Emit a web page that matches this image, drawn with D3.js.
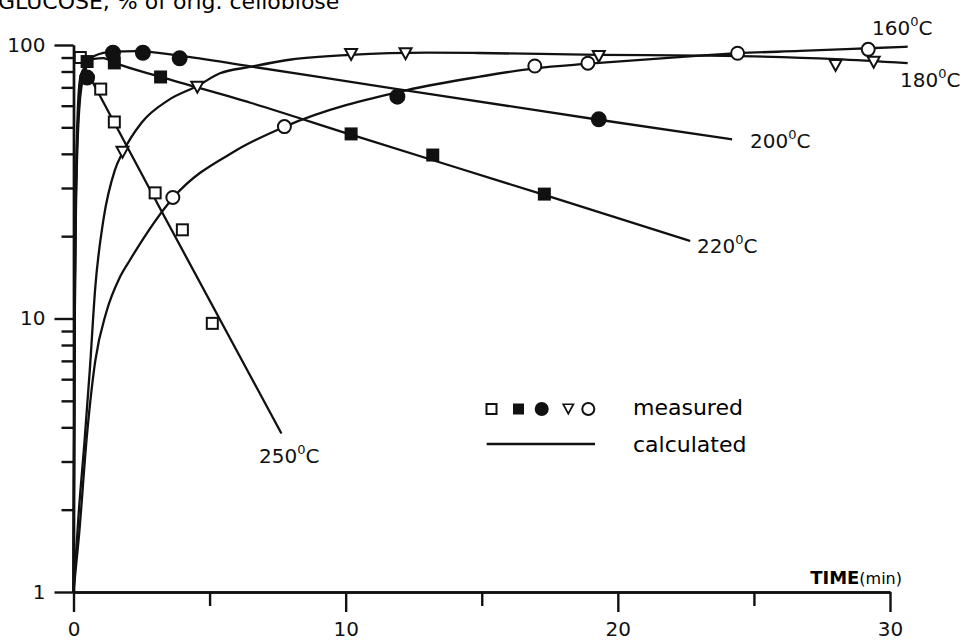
<!DOCTYPE html>
<html lang="en">
<head>
<meta charset="UTF-8">
<title>Glucose from cellobiose</title>
<script src="https://d3js.org/d3.v7.min.js"></script>
<style>
  body { margin: 0; background: #fff; }
  svg { display: block; font-family: "DejaVu Sans", sans-serif; }
  .tlbl { font-size: 20px; fill: #111; }
</style>
</head>
<body>
<svg width="963" height="642"></svg>
<script>
// measured points, [time (min), glucose (% of orig. cellobiose)]
const sq250 = [[0.25, 90], [1.0, 69], [1.5, 52.3], [3.0, 28.8], [4.0, 21.1], [5.1, 9.6]];
const sq220 = [[0.5, 87], [1.5, 86], [3.2, 76.4], [10.2, 47.3], [13.2, 39.6], [17.3, 28.5]];
const dot200 = [[0.5, 76], [1.45, 93.7], [2.55, 93.7], [3.9, 89.4], [11.9, 64.7], [19.3, 53.5]];
const tri180 = [[1.8, 40.7], [4.55, 70.4], [10.2, 92.7], [12.2, 93.3], [19.3, 91.1], [28.0, 84.5], [29.4, 86.9]];
const circ160 = [[3.65, 27.7], [7.75, 50.3], [16.95, 83.8], [18.9, 85.8], [24.4, 93.3], [29.2, 96.4]];

// calculated curves
const calc250 = [[0, 1], [0.03, 6], [0.08, 25], [0.15, 55], [0.25, 76], [0.4, 82], [0.55, 78], [0.72, 72.6], [3.24, 24.6], [7.64, 3.8]];
const calc220 = [[0, 1], [0.04, 8], [0.12, 35], [0.25, 65], [0.45, 82], [0.75, 89], [1.1, 89.5], [1.52, 86], [3.2, 76.5], [6.5, 61.5], [10.2, 47], [17.3, 28.3], [22.66, 19.2]];
const calc200 = [[0, 1], [0.04, 10], [0.12, 40], [0.25, 68], [0.45, 84], [0.8, 91.5], [1.45, 94.5], [2.3, 95], [3.9, 91.5], [6.5, 83.5], [11.9, 69], [19.3, 53.3], [24.2, 45.2]];
const calc180 = [[0, 1], [0.2, 2], [0.4, 3.5], [0.6, 6.5], [0.8, 13], [1.1, 23], [1.52, 34.9], [1.82, 40.7], [2.5, 52], [3.5, 63], [4.57, 71], [5.38, 78.8], [6.48, 83.1], [8, 88.5], [10.16, 92], [13, 93.8], [14.9, 93.5], [19.3, 92], [23, 91.5], [25, 90.8], [28, 88.8], [30.65, 85.8]];
const calc160 = [[0, 1], [0.2, 1.6], [0.5, 3.8], [0.8, 7], [1.2, 10.5], [1.71, 14.2], [2.08, 16.4], [3.67, 27.7], [6, 41.3], [7.77, 50.3], [12.25, 68.4], [14.93, 76.6], [16.95, 82.2], [18.94, 85.5], [23, 91.5], [24.4, 93.3], [26.7, 95.1], [29.2, 97.3], [30.65, 98.6]];

const yMajor = [1, 10, 100];
const yMinor = [2, 3, 4, 5, 6, 7, 8, 9, 20, 30, 40, 50, 60, 70, 80, 90];
const xMajor = [0, 10, 20, 30];
const xMinor = [5, 15, 25];

const svg = d3.select("svg");
const x = d3.scaleLinear().domain([0, 30]).range([73.5, 890]);
const y = d3.scaleLog().domain([1, 100]).range([592, 45]);

// title, cut off at the top like the scan
svg.append("text")
    .attr("x", -2).attr("y", 8.5)
    .attr("font-size", 22)
    .text("GLUCOSE, % of orig. cellobiose");

// axes
function styleAxis(g) {
    g.selectAll("path, line").attr("stroke", "#111").attr("stroke-width", 2.4);
    g.selectAll("text").attr("font-size", 20).attr("fill", "#111")
        .attr("font-family", "DejaVu Sans, sans-serif");
}

svg.append("g").attr("transform", "translate(73.5,0)")
    .call(d3.axisLeft(y).tickValues(yMinor).tickSize(12).tickSizeOuter(0).tickFormat(""))
    .call(styleAxis);
svg.append("g").attr("transform", "translate(73.5,0)")
    .call(d3.axisLeft(y).tickValues(yMajor).tickSize(19).tickSizeOuter(0).tickPadding(9).tickFormat(d3.format("d")))
    .call(styleAxis);

svg.append("g").attr("transform", "translate(0,592)")
    .call(d3.axisBottom(x).tickValues(xMinor).tickSize(14).tickSizeOuter(0).tickFormat(""))
    .call(styleAxis);
svg.append("g").attr("transform", "translate(0,592)")
    .call(d3.axisBottom(x).tickValues(xMajor).tickSize(20).tickSizeOuter(0).tickPadding(10))
    .call(styleAxis);

svg.append("text")
    .attr("x", x(30) + 12).attr("y", 584)
    .attr("text-anchor", "end")
    .attr("font-size", 18)
    .html('<tspan font-weight="bold">TIME</tspan><tspan font-size="16">(min)</tspan>');

// calculated lines
const line = d3.line()
    .x(d => x(d[0]))
    .y(d => y(d[1]))
    .curve(d3.curveMonotoneX);

[calc250, calc220, calc200, calc180, calc160].forEach(c => {
    svg.append("path")
        .datum(c)
        .attr("d", line)
        .attr("fill", "none")
        .attr("stroke", "#111")
        .attr("stroke-width", 2.3)
        .attr("stroke-linejoin", "round");
});

// markers
const tri = "M-6,-5L6,-5L0,6Z";
function drawMarkers(data, kind) {
    const g = svg.append("g");
    const sel = g.selectAll("." + kind).data(data).enter();
    if (kind === "osq" || kind === "fsq") {
        sel.append("rect")
            .attr("x", d => x(d[0]) - 5.5).attr("y", d => y(d[1]) - 5.5)
            .attr("width", 11).attr("height", 11)
            .attr("fill", kind === "osq" ? "#fff" : "#111")
            .attr("stroke", "#111").attr("stroke-width", 2);
    } else if (kind === "fdot" || kind === "ocirc") {
        sel.append("circle")
            .attr("cx", d => x(d[0])).attr("cy", d => y(d[1]))
            .attr("r", kind === "fdot" ? 7 : 6.5)
            .attr("fill", kind === "fdot" ? "#111" : "#fff")
            .attr("stroke", "#111").attr("stroke-width", 2);
    } else {
        sel.append("path")
            .attr("d", tri)
            .attr("transform", d => "translate(" + x(d[0]) + "," + y(d[1]) + ")")
            .attr("fill", "#fff").attr("stroke", "#111").attr("stroke-width", 2);
    }
}
drawMarkers(sq250, "osq");
drawMarkers(sq220, "fsq");
drawMarkers(dot200, "fdot");
drawMarkers(tri180, "otri");
drawMarkers(circ160, "ocirc");

// curve labels
function tempLabel(px, py, num) {
    const t = svg.append("text").attr("class", "tlbl").attr("x", px).attr("y", py);
    t.append("tspan").text(num);
    t.append("tspan").attr("font-size", 13).attr("dy", -9).text("0");
    t.append("tspan").attr("dy", 9).text("C");
}
tempLabel(872, 35, "160");
tempLabel(900, 87, "180");
tempLabel(750, 148, "200");
tempLabel(697, 253, "220");
tempLabel(259, 463, "250");

// legend
const legY = 409;
const lg = svg.append("g");
lg.append("rect").attr("x", 486.5).attr("y", legY - 5).attr("width", 10).attr("height", 10)
    .attr("fill", "#fff").attr("stroke", "#111").attr("stroke-width", 2);
lg.append("rect").attr("x", 513).attr("y", legY - 5.5).attr("width", 11).attr("height", 11).attr("fill", "#111");
lg.append("circle").attr("cx", 541.7).attr("cy", legY).attr("r", 7).attr("fill", "#111");
lg.append("path").attr("d", tri).attr("transform", "translate(568.3," + (legY - 0.5) + ") scale(0.85)")
    .attr("fill", "#fff").attr("stroke", "#111").attr("stroke-width", 2);
lg.append("circle").attr("cx", 588.3).attr("cy", legY).attr("r", 6).attr("fill", "#fff")
    .attr("stroke", "#111").attr("stroke-width", 2);
lg.append("line").attr("x1", 486.7).attr("x2", 595).attr("y1", 444).attr("y2", 444)
    .attr("stroke", "#111").attr("stroke-width", 2.3);
lg.append("text").attr("x", 633).attr("y", 415).attr("font-size", 22).text("measured");
lg.append("text").attr("x", 633).attr("y", 452).attr("font-size", 22).text("calculated");
</script>
</body>
</html>
